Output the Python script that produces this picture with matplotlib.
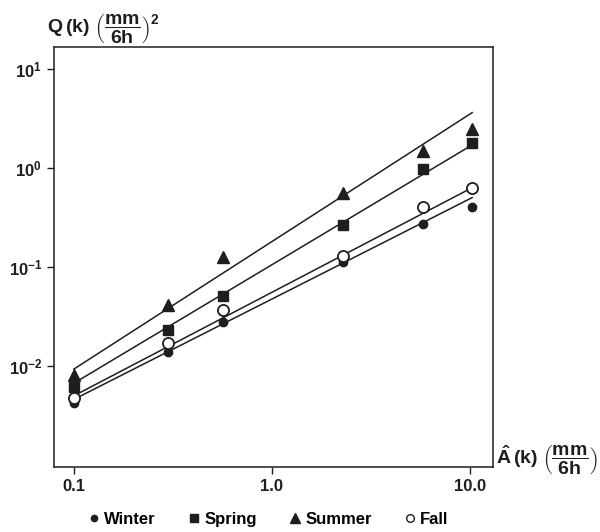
import matplotlib
matplotlib.use('Agg')
import matplotlib.pyplot as plt
from matplotlib.lines import Line2D

plt.rcParams['font.family'] = ['Liberation Sans', 'DejaVu Sans']
plt.rcParams['mathtext.fontset'] = 'custom'
plt.rcParams['mathtext.rm'] = 'Liberation Sans'
plt.rcParams['mathtext.bf'] = 'Liberation Sans:bold'

# Mean precipitation amount per 6h (x) for each season
a_k = [0.1, 0.3, 0.57, 2.3, 5.8, 10.3]

# Q(k) values
winter = [0.0042, 0.0139, 0.028, 0.113, 0.27, 0.40]
spring = [0.0061, 0.023, 0.051, 0.265, 0.98, 1.79]
summer = [0.0081, 0.041, 0.126, 0.55, 1.49, 2.48]
fall = [0.0048, 0.017, 0.037, 0.13, 0.40, 0.63]

# fitted lines: values at the two ends
line_x = [0.1, 10.3]
winter_fit = [0.0046, 0.50]
spring_fit = [0.0067, 1.70]
summer_fit = [0.0093, 3.6]
fall_fit = [0.0050, 0.63]

xticks = [0.1, 1.0, 10.0]
xtick_labels = ['0.1', '1.0', '10.0']
yticks = [1e-2, 1e-1, 1e0, 1e1]
ytick_labels = [r'$\mathbf{10^{-2}}$', r'$\mathbf{10^{-1}}$', r'$\mathbf{10^{0}}$', r'$\mathbf{10^{1}}$']

ink = '#1e1e1e'

fig = plt.figure(figsize=(6, 5.32), dpi=100)
ax = fig.add_axes([0.09, 0.122, 0.731, 0.79])

for fit in [winter_fit, spring_fit, summer_fit, fall_fit]:
    ax.plot(line_x, fit, color=ink, lw=1.1, zorder=2)

ax.plot(a_k, winter, 'o', ms=6, color=ink, zorder=3)
ax.plot(a_k, spring, 's', ms=7, color=ink, zorder=3)
ax.plot(a_k, summer, '^', ms=9, color=ink, zorder=3)
ax.plot(a_k, fall, 'o', ms=8, mfc='white', mec=ink, mew=1.3, zorder=4)

ax.set_xscale('log')
ax.set_yscale('log')
ax.set_xlim(0.0794, 13.06)
ax.set_ylim(0.000955, 16.6)
ax.minorticks_off()
ax.set_xticks(xticks)
ax.set_xticklabels(xtick_labels, fontsize=12, fontweight='bold', color=ink)
ax.set_yticks(yticks)
ax.set_yticklabels(ytick_labels, fontsize=12, color=ink)
ax.tick_params(direction='out', length=5, width=1, colors=ink)
for s in ax.spines.values():
    s.set_color(ink)
    s.set_linewidth(1.1)

fig.text(0.078, 0.945, r'$\mathbf{Q\,(k)}\;\left(\dfrac{\mathbf{mm}}{\mathbf{6h}}\right)^{\mathbf{2}}$',
         fontsize=14, color=ink, ha='left', va='center')
fig.text(0.827, 0.135, r'$\mathbf{\hat{A}\,(k)}\;\left(\dfrac{\mathbf{mm}}{\mathbf{6h}}\right)$',
         fontsize=14, color=ink, ha='left', va='center')

handles = [
    Line2D([], [], ls='none', marker='o', ms=4.5, color=ink, label='Winter'),
    Line2D([], [], ls='none', marker='s', ms=5.5, color=ink, label='Spring'),
    Line2D([], [], ls='none', marker='^', ms=6.5, color=ink, label='Summer'),
    Line2D([], [], ls='none', marker='o', ms=5.5, mfc='white', mec=ink, label='Fall'),
]
fig.legend(handles=handles, loc='center', bbox_to_anchor=(0.448, 0.023), ncol=4,
           frameon=False, handlelength=0.6, handletextpad=0.3, columnspacing=2.0,
           prop={'weight': 'bold', 'size': 12})

fig.savefig('out.png', dpi=100)
